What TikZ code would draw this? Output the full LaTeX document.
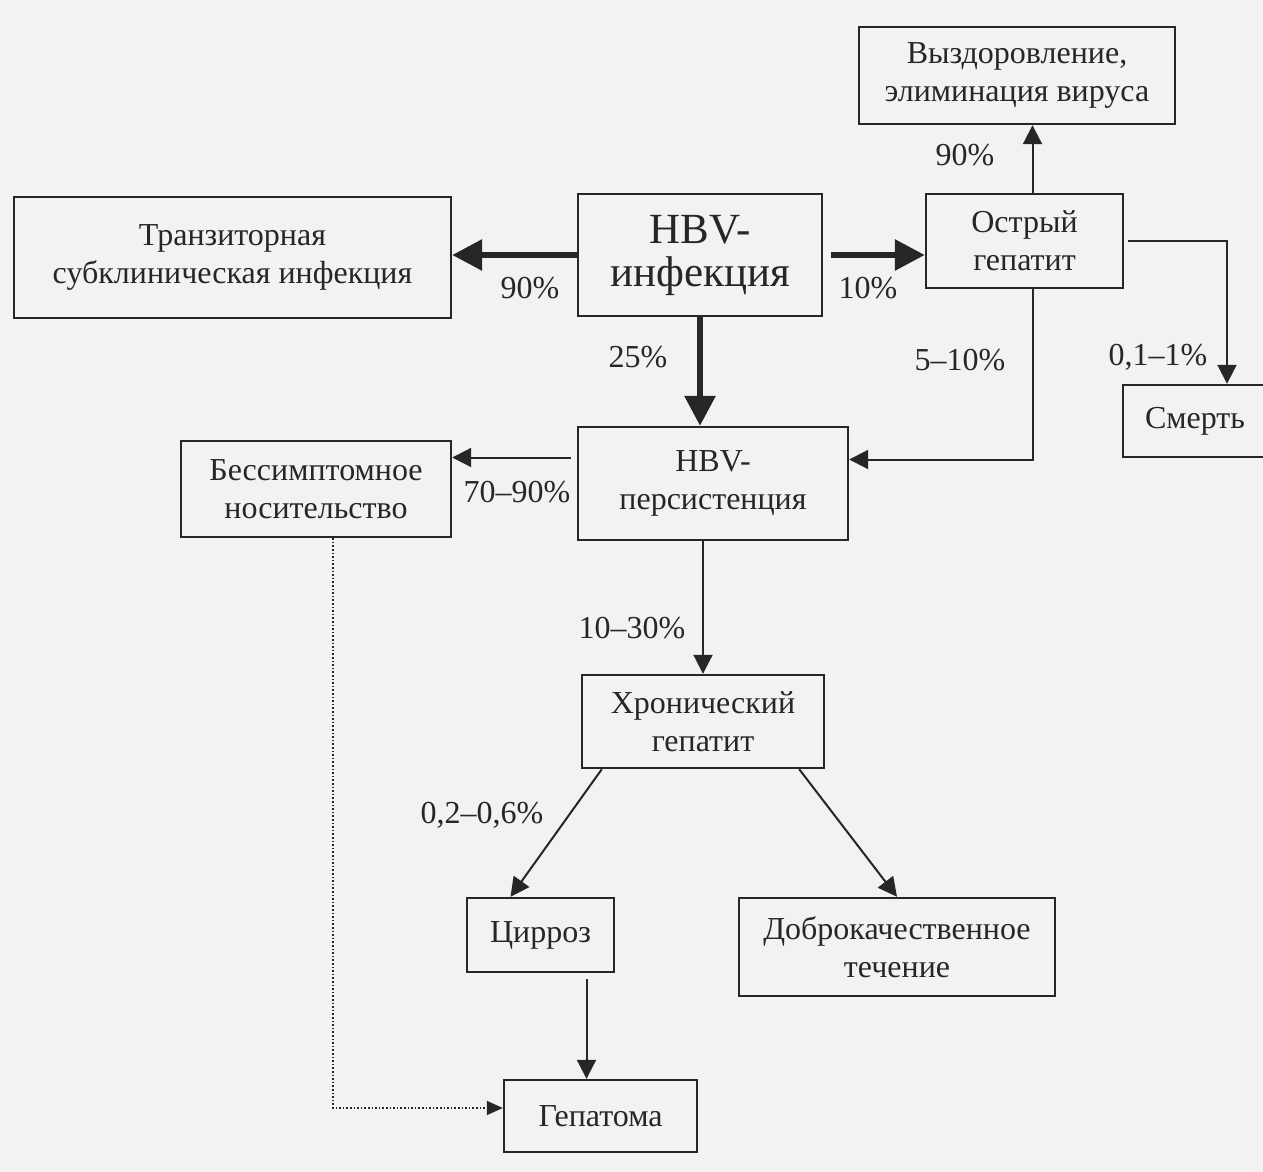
\documentclass[tikz,border=0pt]{standalone}
\usepackage{fontspec}
\setmainfont{Liberation Serif}
\usetikzlibrary{arrows.meta}

\begin{document}
\begin{tikzpicture}[x=0.5pt,y=-0.5pt,black!85,line width=1pt,
  box/.style={draw,line width=1.2pt,align=center,inner sep=2pt,font=\fontsize{16}{19}\selectfont},
  pct/.style={inner sep=0pt,font=\fontsize{16}{19}\selectfont},
  arr/.style={-{Triangle[length=9.5pt,width=9.5pt]}},
  fat/.style={line width=3pt,-{Triangle[length=15pt,width=15pt]}},
  dots/.style={densely dotted,line width=0.8pt,-{Triangle[length=8pt,width=7pt]}}]
 \fill[black!5] (0,0) rectangle (1263,1172);
 \useasboundingbox (0,0) rectangle (1263,1172);
 \node[box,minimum width=218.5pt,minimum height=60.5pt] (trans) at (232.5,257.5) {Транзиторная\\субклиническая инфекция};
 \node[box,minimum width=122pt,minimum height=61pt,font=\fontsize{21.5}{21.5}\selectfont] (inf) at (700,255) {HBV-\\инфекция};
 \node[box,minimum width=98.5pt,minimum height=47pt] (acute) at (1024.5,241) {Острый\\гепатит};
 \node[box,minimum width=158pt,minimum height=48.5pt] (recov) at (1017,75.5) {Выздоровление,\\элиминация вируса};
 \node[box,minimum width=78pt,minimum height=36pt] (death) at (1201,421) {\hspace*{-6pt}Смерть};
 \node[box,minimum width=135pt,minimum height=56.5pt] (pers) at (713,483.5) {HBV-\\персистенция};
 \node[box,minimum width=135pt,minimum height=48pt] (carrier) at (316,489) {Бессимптомное\\носительство};
 \node[box,minimum width=121pt,minimum height=46.5pt] (chron) at (703,721.5) {Хронический\\гепатит};
 \node[box,minimum width=73.5pt,minimum height=37pt] (cirr) at (540.5,935) {Цирроз};
 \node[box,minimum width=158pt,minimum height=49pt] (benign) at (897,947) {Доброкачественное\\течение};
 \node[box,minimum width=96.5pt,minimum height=36pt] (hep) at (600.5,1116) {Гепатома};

 \draw[fat] (inf.west) -- (inf.west -| trans.east);
 \draw[fat,shorten <=4pt] (inf.east) -- (inf.east -| acute.west);
 \draw[fat] (inf.south) -- (inf.south |- pers.north);
 \draw[arr] ([xshift=4pt]acute.north) -- ([xshift=4pt]acute.north |- recov.south);
 \draw[arr,shorten <=2pt] (acute.east) -| ([xshift=13pt]death.north);
 \draw[arr] ([xshift=4pt]acute.south) |- ([yshift=12pt]pers.east);
 \draw[arr,shorten <=3pt] ([yshift=13pt]pers.west) -- ([yshift=13pt]pers.west -| carrier.east);
 \draw[arr] (chron.north |- pers.south) -- (chron.north);
 \draw[arr] ([xshift=10.5pt]chron.south west) -- ([xshift=-15pt]cirr.north);
 \draw[arr] ([xshift=-13pt]chron.south east) -- (benign.north);
 \draw[arr,shorten <=3pt] ([xshift=23pt]cirr.south) -- ([xshift=23pt]cirr.south |- hep.north);
 \draw[dots] ([xshift=8.5pt]carrier.south) |- ([yshift=4pt]hep.west);

 \node[pct] (p90a) at (530,288) {90\%};
 \node[pct] (p10) at (868,288) {10\%};
 \node[pct] (p90b) at (965,155) {90\%};
 \node[pct] (pdeath) at (1158,357) {0,1–1\%};
 \node[pct] (pback) at (960,360) {5–10\%};
 \node[pct] (p25) at (638,357) {25\%};
 \node[pct] (pcarr) at (517,492) {70–90\%};
 \node[pct] (pchron) at (632,628) {10–30\%};
 \node[pct] (pcirr) at (482,815) {0,2–0,6\%};
\end{tikzpicture}
\end{document}
